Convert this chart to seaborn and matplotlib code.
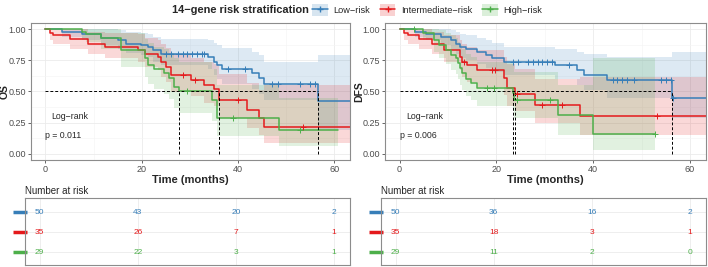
# KM curves (OS / DFS) by 14-gene risk group, with number-at-risk tables
import numpy as np
import pandas as pd
import seaborn as sns
import matplotlib.pyplot as plt
from matplotlib.patches import Patch
from matplotlib.lines import Line2D

groups = ["Low−risk", "Intermediate−risk", "High−risk"]
colors = {"Low−risk": "#377EB8", "Intermediate−risk": "#E41A1C", "High−risk": "#4DAF4A"}

# ---- OS: step times, survival, CI low, CI high, last follow-up
os_low_t = [0, 3.5, 7.5, 11.6, 15.0, 16.8, 19.9, 21.3, 22.3, 24.0, 33.7, 35.0, 35.7, 36.7, 43.0, 44.3, 45.4, 56.6]
os_low_s = [1, .98, .96, .93, .91, .885, .87, .86, .83, .80, .78, .74, .71, .68, .645, .605, .557, .42]
os_low_lo = [1, .94, .91, .87, .84, .81, .79, .78, .74, .71, .68, .63, .60, .56, .52, .48, .43, .19]
os_low_hi = [1, 1, 1, 1, .99, .98, .97, .96, .94, .925, .91, .89, .87, .85, .82, .79, .74, .79]
os_low_end = 63.2
os_low_cens = [25, 26, 27.5, 28.5, 29.5, 30.5, 31.5, 32.5, 33, 38, 41.5, 47, 48.4, 53, 55, 56]

os_mid_t = [0, 1.0, 1.5, 5.1, 8.9, 12.3, 19.2, 20.6, 23.3, 24.0, 25.0, 26.1, 30.2, 33.0, 35.0, 36.1, 41.9, 44.3, 45.4]
os_mid_s = [1, .97, .95, .92, .885, .86, .835, .805, .78, .74, .70, .63, .59, .55, .52, .43, .35, .285, .215]
os_mid_lo = [1, .91, .88, .84, .80, .77, .74, .70, .67, .62, .58, .50, .46, .41, .38, .29, .21, .15, .085]
os_mid_hi = [1, 1, 1, 1, .98, .97, .96, .93, .91, .88, .85, .80, .77, .74, .72, .64, .57, .51, .55]
os_mid_end = 63.2
os_mid_cens = [28.5, 31, 40, 53.6]

os_high_t = [0, 7.5, 8.5, 11.6, 15.8, 20.6, 21.3, 22.6, 24.7, 25.7, 26.8, 27.8, 34.7, 35.7, 48.5]
os_high_s = [1, .975, .965, .93, .83, .765, .71, .68, .645, .605, .54, .50, .43, .285, .19]
os_high_lo = [1, .93, .90, .84, .70, .62, .56, .52, .48, .44, .37, .33, .26, .14, .065]
os_high_hi = [1, 1, 1, 1, .97, .92, .89, .86, .84, .81, .77, .74, .68, .55, .45]
os_high_end = 60.8
os_high_cens = [29.5, 39, 53]

# ---- DFS
dfs_low_t = [0, 3.1, 5.5, 8.5, 10.6, 11.6, 12.5, 13.7, 16.0, 17.8, 19.2, 21.5, 32.1, 36.6, 38.0, 42.9, 56.2]
dfs_low_s = [1, .98, .965, .94, .91, .885, .86, .845, .82, .79, .765, .74, .71, .67, .63, .59, .445]
dfs_low_lo = [1, .94, .91, .87, .83, .80, .77, .75, .72, .69, .66, .63, .60, .55, .51, .45, .29]
dfs_low_hi = [1, 1, 1, 1, .99, .98, .96, .95, .93, .91, .89, .86, .84, .82, .80, .78, .82]
dfs_low_end = 63.2
dfs_low_cens = [23.5, 24.5, 26.5, 27.5, 28.5, 29.5, 30.5, 31.5, 35, 44, 45, 46, 47, 48.5, 54, 55, 56, 56.5]

dfs_mid_t = [0, 0.9, 1.7, 4.1, 6.8, 9.2, 12.5, 13.0, 14.0, 16.0, 21.5, 22.2, 23.9, 28.0, 37.3]
dfs_mid_s = [1, .97, .95, .92, .885, .835, .78, .74, .71, .67, .605, .525, .48, .39, .30]
dfs_mid_lo = [1, .91, .88, .84, .80, .74, .67, .62, .58, .54, .47, .38, .34, .25, .15]
dfs_mid_hi = [1, 1, 1, 1, .98, .95, .91, .88, .86, .83, .78, .72, .68, .60, .62]
dfs_mid_end = 63.2
dfs_mid_cens = [13.3, 19.2, 19.8, 24.2, 29.4, 33.5, 53.1]

dfs_high_t = [0, 4.8, 7.2, 8.2, 9.6, 10.6, 11.6, 12.0, 12.5, 13.0, 13.7, 14.7, 16.0, 23.5, 23.7, 32.8, 40.0]
dfs_high_s = [1, .97, .91, .87, .83, .79, .765, .725, .685, .645, .60, .57, .525, .485, .43, .31, .16]
dfs_high_lo = [1, .91, .82, .77, .72, .67, .64, .60, .55, .51, .46, .43, .38, .34, .29, .15, .03]
dfs_high_hi = [1, 1, 1, .99, .97, .95, .93, .90, .87, .84, .80, .78, .74, .71, .66, .55, .765]
dfs_high_end = 52.7
dfs_high_cens = [3, 18.1, 19.5, 24.3, 31.1, 52.7]

# number at risk at 0, 20, 40, 60 months
risk_times = [0, 20, 40, 60]
os_risk = {"Low−risk": [50, 43, 20, 2], "Intermediate−risk": [35, 26, 7, 1], "High−risk": [29, 22, 3, 1]}
dfs_risk = {"Low−risk": [50, 36, 16, 2], "Intermediate−risk": [35, 18, 3, 1], "High−risk": [29, 11, 2, 0]}

os_p = "p = 0.011"
dfs_p = "p = 0.006"

os_curves = {
    "Low−risk": (os_low_t, os_low_s, os_low_lo, os_low_hi, os_low_end, os_low_cens),
    "Intermediate−risk": (os_mid_t, os_mid_s, os_mid_lo, os_mid_hi, os_mid_end, os_mid_cens),
    "High−risk": (os_high_t, os_high_s, os_high_lo, os_high_hi, os_high_end, os_high_cens),
}
dfs_curves = {
    "Low−risk": (dfs_low_t, dfs_low_s, dfs_low_lo, dfs_low_hi, dfs_low_end, dfs_low_cens),
    "Intermediate−risk": (dfs_mid_t, dfs_mid_s, dfs_mid_lo, dfs_mid_hi, dfs_mid_end, dfs_mid_cens),
    "High−risk": (dfs_high_t, dfs_high_s, dfs_high_lo, dfs_high_hi, dfs_high_end, dfs_high_cens),
}

sns.set_style("white")
plt.rcParams["font.family"] = ["Liberation Sans", "DejaVu Sans"]

fig = plt.figure(figsize=(7.08, 2.67), dpi=100)
XLIM = (-3.0, 63.3)
GRID = "#EBEBEB"
BORDER = "#8C8C8C"


def style_axes(ax):
    for sp in ax.spines.values():
        sp.set_color(BORDER)
        sp.set_linewidth(0.8)
    ax.set_xlim(*XLIM)


def km_panel(ax, curves, ylabel, ptext, label_x):
    style_axes(ax)
    ax.set_ylim(-0.05, 1.05)
    ax.set_xticks(risk_times)
    ax.set_yticks([0, .25, .5, .75, 1.0])
    ax.set_yticklabels(["0.00", "0.25", "0.50", "0.75", "1.00"])
    ax.set_xticks([10, 30, 50], minor=True)
    ax.set_yticks([.125, .375, .625, .875], minor=True)
    ax.grid(True, which="major", color=GRID, lw=0.6)
    ax.grid(True, which="minor", color="#F4F4F4", lw=0.4)
    ax.set_axisbelow(True)
    ax.tick_params(axis="both", which="major", labelsize=6.5, colors="#4D4D4D",
                   length=2, width=0.6, direction="out", pad=1.5, left=True, bottom=True)
    ax.tick_params(which="minor", length=0)

    rows = []
    medians = []
    for g in groups:
        t, s, lo, hi, end, cens = curves[g]
        te = list(t) + [end]
        ax.fill_between(te, list(lo) + [lo[-1]], list(hi) + [hi[-1]], step="post",
                        color=colors[g], alpha=0.17, lw=0)
        for ti, si in zip(te, list(s) + [s[-1]]):
            rows.append({"time": ti, "surv": si, "group": g})
        sa = np.array(s)
        below = np.where(sa <= 0.5)[0]
        if len(below):
            medians.append(t[below[0]])
    df = pd.DataFrame(rows)
    sns.lineplot(data=df, x="time", y="surv", hue="group", palette=colors, hue_order=groups,
                 estimator=None, sort=False, drawstyle="steps-post", lw=1.1, ax=ax, legend=False)

    # censor marks
    for g in groups:
        t, s, lo, hi, end, cens = curves[g]
        idx = np.searchsorted(t, cens, side="right") - 1
        cy = np.array(s)[idx]
        sns.scatterplot(x=cens, y=cy, marker="+", s=14, linewidth=0.7, color=colors[g], ax=ax, zorder=5)

    # median lines
    ax.plot([0, max(medians)], [0.5, 0.5], ls=(0, (3, 2)), color="black", lw=0.7)
    for m in medians:
        ax.plot([m, m], [0, 0.5], ls=(0, (3, 2)), color="black", lw=0.7)

    ax.text(1.3, 0.30, "Log−rank", fontsize=6.3, va="center", ha="left")
    ax.text(0.0, 0.147, ptext, fontsize=6.3, va="center", ha="left")
    ax.set_xlabel("Time (months)", fontsize=8, fontweight="bold", labelpad=1)
    ax.set_ylabel(ylabel, fontsize=7.5, fontweight="bold")
    ax.yaxis.set_label_coords(label_x, 0.5)


def risk_table(ax, risk):
    style_axes(ax)
    ax.set_ylim(0.35, 3.7)
    ax.set_xticks(risk_times)
    ax.set_yticks([1, 2, 3])
    ax.grid(True, color=GRID, lw=0.6)
    ax.tick_params(length=0, labelbottom=False, labelleft=False)
    for i, g in enumerate(groups):
        y = 3 - i
        for x, n in zip(risk_times, risk[g]):
            ax.text(x, y, str(n), color=colors[g], fontsize=6, ha="center", va="center")
        ax.plot([-5.4, -2.5], [y, y], color=colors[g], lw=2.5, clip_on=False, solid_capstyle="butt")


W, H = 708, 267
ax1 = fig.add_axes([31 / W, 1 - 160 / H, 319 / W, 137 / H])
ax2 = fig.add_axes([385 / W, 1 - 160 / H, 321 / W, 137 / H])
t1 = fig.add_axes([25 / W, 1 - 265 / H, 325 / W, 67 / H])
t2 = fig.add_axes([381 / W, 1 - 265 / H, 325 / W, 67 / H])

km_panel(ax1, os_curves, "OS", os_p, -21 / 319)
km_panel(ax2, dfs_curves, "DFS", dfs_p, -21 / 321)
risk_table(t1, os_risk)
risk_table(t2, dfs_risk)

fig.text(25 / W, 1 - 191 / H, "Number at risk", fontsize=7, va="center", ha="left")
fig.text(381 / W, 1 - 191 / H, "Number at risk", fontsize=7, va="center", ha="left")

# legend along the top
fig.text(172 / W, 1 - 10 / H, "14−gene risk stratification", fontsize=7.9, fontweight="bold",
         va="center", ha="left")
handles = [(Patch(facecolor=colors[g], alpha=0.2, lw=0),
            Line2D([], [], color=colors[g], lw=1.1, marker="+", markersize=4)) for g in groups]
fig.legend(handles, groups, loc="center left", bbox_to_anchor=(312 / W, 1 - 10 / H), ncol=3,
           frameon=False, fontsize=6.6, handlelength=1.7, handleheight=1.5, columnspacing=1.1,
           handletextpad=0.6, borderaxespad=0, borderpad=0)

fig.savefig("out.png", dpi=100)
